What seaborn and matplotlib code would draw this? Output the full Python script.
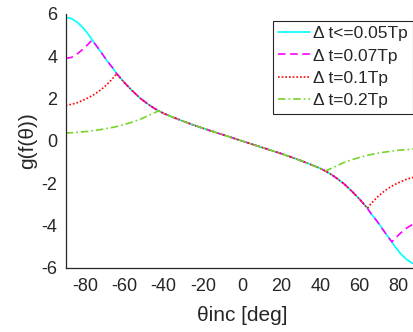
import matplotlib
matplotlib.use("Agg")
import matplotlib.pyplot as plt
import seaborn as sns
import pandas as pd

theta = [-90, -87, -84, -81, -78, -76.5, -75, -72, -69, -66, -64, -60, -56, -52, -48, -46, -44, -42.5,
         -40, -35, -30, -25, -20, -15, -10, -5, 0, 5, 10, 15, 20, 25, 30, 35, 40,
         42.5, 44, 46, 48, 52, 56, 60, 64, 66, 69, 72, 75, 76.5, 78, 81, 84, 87, 90]

g_005 = [5.84, 5.78, 5.60, 5.33, 4.98, 4.77, 4.58, 4.20, 3.80, 3.45, 3.18, 2.75, 2.37, 2.02, 1.74, 1.61, 1.50, 1.42,
         1.30, 1.11, 0.93, 0.76, 0.60, 0.45, 0.30, 0.15, 0.00, -0.15, -0.30, -0.45, -0.60, -0.76, -0.93, -1.11, -1.30,
         -1.42, -1.50, -1.61, -1.74, -2.02, -2.37, -2.75, -3.18, -3.45, -3.80, -4.20, -4.58, -4.77, -4.98, -5.33, -5.60, -5.78, -5.84]

g_007 = [3.90, 3.95, 4.12, 4.35, 4.62, 4.77, 4.58, 4.20, 3.80, 3.45, 3.18, 2.75, 2.37, 2.02, 1.74, 1.61, 1.50, 1.42,
         1.30, 1.11, 0.93, 0.76, 0.60, 0.45, 0.30, 0.15, 0.00, -0.15, -0.30, -0.45, -0.60, -0.76, -0.93, -1.11, -1.30,
         -1.42, -1.50, -1.61, -1.74, -2.02, -2.37, -2.75, -3.18, -3.45, -3.80, -4.20, -4.58, -4.77, -4.62, -4.35, -4.12, -3.95, -3.90]

g_01 = [1.68, 1.73, 1.81, 1.93, 2.06, 2.14, 2.22, 2.42, 2.66, 2.95, 3.18, 2.75, 2.37, 2.02, 1.74, 1.61, 1.50, 1.42,
        1.30, 1.11, 0.93, 0.76, 0.60, 0.45, 0.30, 0.15, 0.00, -0.15, -0.30, -0.45, -0.60, -0.76, -0.93, -1.11, -1.30,
        -1.42, -1.50, -1.61, -1.74, -2.02, -2.37, -2.75, -3.18, -2.95, -2.66, -2.42, -2.22, -2.14, -2.06, -1.93, -1.81, -1.73, -1.68]

g_02 = [0.37, 0.39, 0.41, 0.43, 0.46, 0.48, 0.50, 0.54, 0.59, 0.64, 0.68, 0.78, 0.89, 1.02, 1.19, 1.28, 1.36, 1.42,
        1.30, 1.11, 0.93, 0.76, 0.60, 0.45, 0.30, 0.15, 0.00, -0.15, -0.30, -0.45, -0.60, -0.76, -0.93, -1.11, -1.30,
        -1.42, -1.36, -1.28, -1.19, -1.02, -0.89, -0.78, -0.68, -0.64, -0.59, -0.54, -0.50, -0.48, -0.46, -0.43, -0.41, -0.39, -0.37]

labels = ["\u0394 t<=0.05Tp", "\u0394 t=0.07Tp", "\u0394 t=0.1Tp", "\u0394 t=0.2Tp"]
series = [g_005, g_007, g_01, g_02]
colors = ["#00FFFF", "#FF00FF", "#FF0000", "#77D42A"]
styles = [None, (4.5, 2.8), (1, 1.2), (4.5, 1.8, 1, 1.8)]

sns.set_style("white")
plt.rcParams["font.family"] = ["Liberation Sans", "DejaVu Sans"]
plt.rcParams["axes.unicode_minus"] = False

fig = plt.figure(figsize=(4.14, 3.32), dpi=100)
ax = fig.add_axes([0.1587, 0.193, 0.8517, 0.765])

for lab, vals, col, dash in zip(labels, series, colors, styles):
    df = pd.DataFrame({"theta": theta, "g": vals})
    line = sns.lineplot(data=df, x="theta", y="g", ax=ax, sort=False,
                        linewidth=1.2, color=col, label=lab).lines[-1]
    if dash is not None:
        line.set_dashes(dash)
ax.get_legend().remove()

ax.set_xlim(-90, 90)
ax.set_ylim(-6, 6)
ax.set_xticks([-80, -60, -40, -20, 0, 20, 40, 60, 80])
ax.set_yticks([-6, -4, -2, 0, 2, 4, 6])
ax.tick_params(direction="in", length=4, width=0.8, colors="#262626", labelsize=13)
ax.tick_params(axis="x", pad=7)
ax.tick_params(axis="y", pad=6)
for s in ["top", "right"]:
    ax.spines[s].set_visible(False)
for s in ["left", "bottom"]:
    ax.spines[s].set_color("#262626")
    ax.spines[s].set_linewidth(0.9)
ax.set_xlabel("\u03b8inc [deg]", fontsize=15, color="#262626", labelpad=8)
ax.set_ylabel("g(f(\u03b8))", fontsize=15, color="#262626", labelpad=3)

handles, labs = ax.get_legend_handles_labels()
leg = fig.legend(handles, labs, loc="upper left", bbox_to_anchor=(272.7 / 414, 1 - 20.7 / 332), fontsize=12.5,
                 frameon=True, fancybox=False, framealpha=1, edgecolor="#262626",
                 handlelength=1.85, handletextpad=0.15, labelspacing=0.42, borderpad=0.3, borderaxespad=0)
leg.get_frame().set_linewidth(0.8)

fig.savefig("out.png", dpi=100)
